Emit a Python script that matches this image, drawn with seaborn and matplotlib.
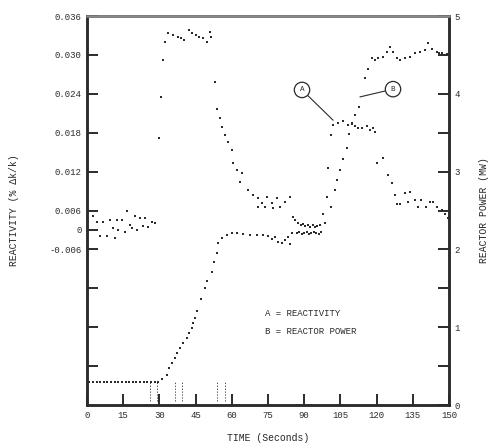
import numpy as np
import pandas as pd
import seaborn as sns
import matplotlib.pyplot as plt

# --- Data ---
# A: reactivity (% dk/k)
react_time = [2.5, 4.1, 5.4, 6.6, 8.3, 9.5, 10.8, 11.6, 12.4, 12.8, 14.5, 15.7,
              16.6, 17.8, 18.6, 19.9, 20.7, 22.0, 23.2, 24.0, 25.3, 26.9, 28.2,
              29.8, 30.7, 31.5, 32.3, 33.5, 35.5, 37.6, 39.1, 40.4, 42.4, 43.7,
              45.3, 46.6, 47.9, 49.6, 51.0, 51.4,
              53.0, 54.0, 55.1, 55.9, 57.2, 58.4, 60.0, 60.5, 62.2, 63.4, 64.2,
              66.7, 68.8, 70.9, 72.5, 74.6, 76.7, 78.7, 80.0, 82.0, 84.1, 71.0,
              73.8, 77.1, 85.4, 86.2,
              87.5, 88.5, 89.5, 90.5, 91.5, 92.5, 93.5, 94.5, 95.5, 96.5,
              97.8, 99.5, 99.9, 101.1,
              102.0, 104.0, 106.1, 108.2, 109.8, 111.1, 112.4, 114.0, 116.1,
              117.4, 118.6, 119.4,
              120.2, 122.7, 124.7, 126.4, 127.6, 128.5, 129.7, 131.8, 133.0,
              133.9, 135.9, 137.3, 138.5, 140.5, 142.2, 143.4, 145.0, 147.1,
              148.3, 149.5]
react_value = [0.0051, 0.0043, 0.0020, 0.0043, 0.0020, 0.0045, 0.0033, 0.0017,
               0.0046, 0.0030, 0.0046, 0.0027, 0.0060, 0.0037, 0.0033, 0.0051,
               0.0030, 0.0048, 0.0036, 0.0048, 0.0034, 0.0043, 0.0040,
               0.0172, 0.0235, 0.0292, 0.0320, 0.0334, 0.0331, 0.0328, 0.0326,
               0.0323, 0.0338, 0.0334, 0.0331, 0.0328, 0.0326, 0.0320, 0.0336,
               0.0328,
               0.0258, 0.0217, 0.0203, 0.0189, 0.0176, 0.0166, 0.0153, 0.0133,
               0.0122, 0.0104, 0.0118, 0.0092, 0.0084, 0.0079, 0.0072, 0.0081,
               0.0072, 0.0079, 0.0065, 0.0073, 0.0081, 0.0065, 0.0065, 0.0064,
               0.0050, 0.0045,
               0.0040, 0.0037, 0.0039, 0.0036, 0.0038, 0.0035, 0.0037, 0.0034,
               0.0036, 0.0038,
               0.0055, 0.0081, 0.0126, 0.0176,
               0.0192, 0.0195, 0.0198, 0.0192, 0.0195, 0.0190, 0.0187, 0.0187,
               0.0190, 0.0184, 0.0187, 0.0181,
               0.0133, 0.0141, 0.0115, 0.0102, 0.0084, 0.0070, 0.0070, 0.0087,
               0.0073, 0.0089, 0.0076, 0.0065, 0.0076, 0.0065, 0.0073, 0.0073,
               0.0065, 0.0061, 0.0055, 0.0049]

# B: reactor power (MW)
power_time = [1.0, 2.5, 4.0, 5.5, 7.0, 8.5, 10.0, 11.5, 13.0, 14.5, 16.0, 17.5,
              19.0, 20.5, 22.0, 23.5, 25.0, 26.5, 28.0, 29.5, 31.1, 33.2, 34.0,
              35.2, 36.5, 37.3, 38.5, 39.8, 41.4, 42.3, 43.5, 43.9, 44.8, 45.6,
              47.2, 48.9, 49.7, 51.8, 52.6, 53.9, 54.3,
              55.9, 58.0, 60.1, 62.2, 64.7, 67.6, 70.5, 73.0, 75.0, 76.7, 78.0,
              79.2, 80.9, 82.1, 84.1, 83.3, 85.0,
              87.0, 88.0, 89.0, 90.0, 91.0, 92.0, 93.0, 94.0, 95.0, 96.0, 97.0,
              98.6, 101.1, 102.8, 103.6, 104.8, 106.1, 107.7, 108.6, 109.8,
              111.1, 112.7, 115.2, 116.5,
              118.1, 119.4, 120.6, 122.7, 124.3, 125.6, 126.8, 128.5, 129.7,
              131.8, 133.9, 135.9, 138.0, 140.1, 141.3, 143.0, 145.0, 146.0,
              147.1, 148.2, 149.2]
power_value = [0.29, 0.29, 0.30, 0.29, 0.29, 0.30, 0.29, 0.29, 0.30, 0.29,
               0.29, 0.30, 0.29, 0.29, 0.30, 0.29, 0.29, 0.30, 0.30, 0.30,
               0.33, 0.39, 0.47, 0.54, 0.60, 0.67, 0.73, 0.80, 0.86, 0.93,
               0.99, 1.05, 1.12, 1.21, 1.36, 1.50, 1.60, 1.71, 1.84, 1.95, 2.08,
               2.15, 2.19, 2.21, 2.21, 2.20, 2.19, 2.19, 2.19, 2.17, 2.13, 2.16,
               2.09, 2.08, 2.12, 2.07, 2.16, 2.21,
               2.21, 2.22, 2.20, 2.21, 2.22, 2.20, 2.21, 2.22, 2.21, 2.20, 2.22,
               2.34, 2.54, 2.76, 2.89, 3.02, 3.16, 3.30, 3.48, 3.61,
               3.73, 3.83, 4.20, 4.32,
               4.46, 4.43, 4.46, 4.47, 4.54, 4.60, 4.54, 4.46, 4.43, 4.46, 4.47,
               4.52, 4.54, 4.56, 4.65, 4.58, 4.54, 4.52, 4.53, 4.50, 4.51]

react_ticks = [0.036, 0.030, 0.024, 0.018, 0.012, 0.006, 0.003, 0.0,
               -0.006, -0.012, -0.018]
react_labels = ["0.036", "0.030", "0.024", "0.018", "0.012", "0.006", "0",
                "-0.006", "", "", ""]
time_ticks = [0, 15, 30, 45, 60, 75, 90, 105, 120, 135, 150]
power_ticks = [0, 1, 2, 3, 4, 5]

INK = "#2b2b2b"

sns.set_style("ticks")
plt.rcParams["font.family"] = ["Liberation Mono", "DejaVu Sans Mono"]
plt.rcParams["axes.edgecolor"] = INK
plt.rcParams["text.color"] = INK
plt.rcParams["xtick.color"] = INK
plt.rcParams["ytick.color"] = INK

react_df = pd.DataFrame({"time": react_time, "reactivity": react_value})
power_df = pd.DataFrame({"time": power_time, "power": power_value})

fig = plt.figure(figsize=(4.92, 4.46), dpi=100)
ax = fig.add_axes([0.1768, 0.0919, 0.7358, 0.8722])
ax2 = ax.twinx()

sns.scatterplot(data=react_df, x="time", y="reactivity", ax=ax, color=INK,
                marker="s", s=4, linewidth=0, legend=False)
sns.scatterplot(data=power_df, x="time", y="power", ax=ax2, color=INK,
                marker="s", s=4, linewidth=0, legend=False)

ax.set_xlim(0, 150)
ax.set_ylim(-0.024, 0.036)
ax2.set_ylim(0, 5)

ax.set_xticks(time_ticks)
ax.set_xticklabels([str(t) for t in time_ticks], fontsize=6.5)
ax.set_yticks(react_ticks)
ax.set_yticklabels(react_labels, fontsize=6.5)
ax2.set_yticks(power_ticks)
ax2.set_yticks(np.arange(0.5, 5, 1.0), minor=True)
ax2.set_yticklabels([str(p) for p in power_ticks], fontsize=6.5)

ax.tick_params(axis="both", direction="in", length=8, width=1.4, pad=4)
ax2.tick_params(axis="y", which="both", direction="in", length=8, width=1.4, pad=4)
for a in (ax, ax2):
    for sp in a.spines.values():
        sp.set_linewidth(1.8)
        sp.set_visible(True)
ax2.spines["top"].set_color("#8a8a8a")

ax.set_xlabel("TIME (Seconds)", fontsize=7, labelpad=10)
ax.set_ylabel("REACTIVITY (% \u0394k/k)", fontsize=7, labelpad=22)
ax2.set_ylabel("REACTOR POWER (MW)", fontsize=7, rotation=90, labelpad=14)

# rod marks near the time axis
for t0 in [27.5, 38.0, 55.5]:
    ax2.vlines([t0 - 1.5, t0 + 1.5], 0.05, 0.3, colors=INK, linewidth=0.6,
               linestyles=(0, (1.5, 2)))

# curve identifiers
circ = dict(boxstyle="circle,pad=0.55", fc="white", ec=INK, lw=0.9)
ax2.annotate("A", xy=(102, 3.66), xytext=(89.1, 4.05), fontsize=5.5,
             ha="center", va="center", bbox=circ,
             arrowprops=dict(arrowstyle="-", color=INK, lw=0.8,
                             shrinkA=0, shrinkB=0))
ax2.annotate("B", xy=(113.1, 3.96), xytext=(126.8, 4.06), fontsize=5.5,
             ha="center", va="center", bbox=circ,
             arrowprops=dict(arrowstyle="-", color=INK, lw=0.8,
                             shrinkA=0, shrinkB=0))

ax2.text(73.8, 1.18, "A = REACTIVITY", fontsize=6.5, va="center")
ax2.text(73.8, 0.94, "B = REACTOR POWER", fontsize=6.5, va="center")

fig.savefig("out.png", dpi=100)
